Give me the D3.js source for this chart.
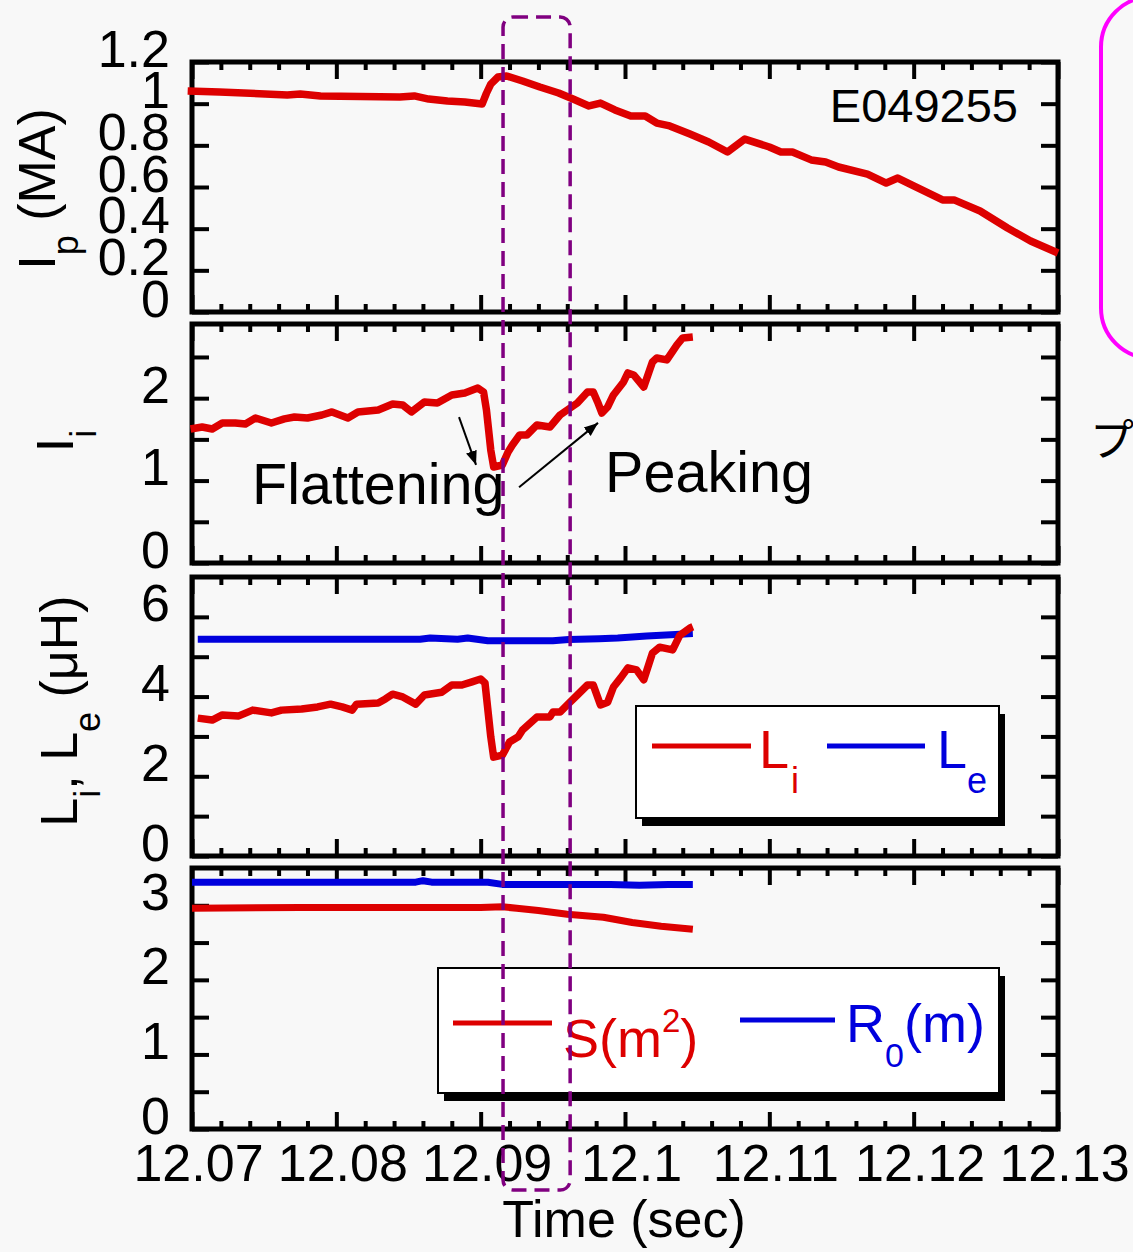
<!DOCTYPE html>
<html>
<head>
<meta charset="utf-8">
<script src="https://cdn.jsdelivr.net/npm/d3@7"></script>
<style>
  body { margin: 0; background: #f8f8f8; }
  svg { display: block; font-family: "Liberation Sans", Arial, sans-serif; }
</style>
</head>
<body>
<script>
// ---- data ----
const timeTicks = [12.07, 12.08, 12.09, 12.10, 12.11, 12.12, 12.13];
const timeTickLabels = ["12.07", "12.08", "12.09", "12.1", "12.11", "12.12", "12.13"];

// plasma current Ip (MA)
const ipData = [[12.0697,1.061],[12.0719,1.056],[12.0766,1.042],[12.0775,1.046],[12.0789,1.037],
  [12.0844,1.032],[12.0854,1.037],[12.0864,1.022],[12.0877,1.013],[12.0889,1.008],[12.0901,0.998],
  [12.0904,1.05],[12.0907,1.094],[12.0912,1.128],[12.0918,1.133],[12.0929,1.109],[12.0941,1.080],
  [12.0954,1.051],[12.0964,1.022],[12.0975,0.989],[12.0983,1.003],[12.0993,0.970],[12.1004,0.941],
  [12.1014,0.941],[12.1022,0.907],[12.1031,0.893],[12.1045,0.854],[12.1058,0.816],[12.1071,0.768],
  [12.1083,0.830],[12.1100,0.792],[12.1108,0.768],[12.1116,0.768],[12.1129,0.730],[12.1139,0.720],
  [12.1148,0.696],[12.1168,0.662],[12.1181,0.619],[12.1189,0.643],[12.1200,0.605],[12.1220,0.538],
  [12.1228,0.538],[12.1246,0.485],[12.1265,0.403],[12.1281,0.341],[12.1300,0.283]];
const ipTicks = [0, 0.2, 0.4, 0.6, 0.8, 1, 1.2];
const ipTickLabels = ["0", "0.2", "0.4", "0.6", "0.8", "1", "1.2"];

// internal inductance li
const liData = [[12.0699,1.626],[12.0707,1.650],[12.0714,1.626],[12.0721,1.699],[12.0730,1.699],
  [12.0737,1.687],[12.0744,1.760],[12.0755,1.699],[12.0764,1.748],[12.0771,1.772],[12.0780,1.760],
  [12.0790,1.796],[12.0797,1.833],[12.0808,1.760],[12.0815,1.833],[12.0829,1.857],[12.0839,1.930],
  [12.0846,1.917],[12.0852,1.833],[12.0861,1.954],[12.0870,1.942],[12.0880,2.039],[12.0889,2.063],
  [12.0898,2.124],[12.0902,2.075],[12.0904,1.857],[12.0907,1.371],[12.0909,1.165],[12.0915,1.189],
  [12.0919,1.347],[12.0922,1.432],[12.0927,1.553],[12.0932,1.553],[12.0939,1.675],[12.0948,1.650],
  [12.0955,1.796],[12.0962,1.881],[12.0967,1.942],[12.0974,2.075],[12.0978,2.075],[12.0981,1.954],
  [12.0984,1.820],[12.0988,1.893],[12.0992,2.039],[12.0999,2.197],[12.1002,2.306],[12.1006,2.282],
  [12.1013,2.136],[12.1019,2.439],[12.1022,2.488],[12.1029,2.464],[12.1036,2.646],[12.1040,2.731],
  [12.1047,2.743]];
const liTicks = [0, 0.5, 1, 1.5, 2, 2.5];
const liTickLabels = ["0", "", "1", "", "2", ""];

// Li and Le (uH)
const LiData = [[12.0704,3.46],[12.0714,3.41],[12.0721,3.54],[12.0732,3.51],[12.0742,3.66],
  [12.0755,3.59],[12.0762,3.66],[12.0776,3.69],[12.0787,3.74],[12.0796,3.81],[12.0804,3.74],
  [12.0811,3.66],[12.0814,3.81],[12.0829,3.84],[12.0834,3.94],[12.0839,4.06],[12.0846,3.99],
  [12.0855,3.81],[12.0861,4.04],[12.0873,4.11],[12.0880,4.29],[12.0887,4.29],[12.0894,4.37],
  [12.0900,4.44],[12.0903,4.34],[12.0907,2.99],[12.0909,2.48],[12.0915,2.53],[12.0920,2.86],
  [12.0926,2.99],[12.0929,3.16],[12.0939,3.49],[12.0948,3.49],[12.0950,3.61],[12.0955,3.61],
  [12.0960,3.79],[12.0967,4.04],[12.0974,4.29],[12.0978,4.29],[12.0983,3.79],[12.0988,3.86],
  [12.0992,4.24],[12.0997,4.47],[12.1002,4.72],[12.1008,4.67],[12.1013,4.42],[12.1019,5.09],
  [12.1024,5.24],[12.1033,5.17],[12.1038,5.54],[12.1045,5.72],[12.1047,5.75]];
const LeData = [[12.0704,5.44],[12.0858,5.44],[12.0865,5.47],[12.0884,5.44],[12.0891,5.47],
  [12.0905,5.40],[12.0933,5.40],[12.0950,5.40],[12.0961,5.43],[12.0982,5.45],[12.0995,5.47],
  [12.1015,5.52],[12.1035,5.56],[12.1047,5.58]];
const LTicks = [0, 1, 2, 3, 4, 5, 6];
const LTickLabels = ["0", "", "2", "", "4", "", "6"];

// S (m^2) and R0 (m)
const sData = [[12.0700,2.96],[12.0775,2.97],[12.0845,2.97],[12.0900,2.97],[12.0915,2.98],
  [12.0925,2.96],[12.0940,2.93],[12.0960,2.88],[12.0985,2.84],[12.1005,2.77],[12.1025,2.72],
  [12.1047,2.68]];
const r0Data = [[12.0700,3.31],[12.0855,3.31],[12.0860,3.33],[12.0866,3.31],[12.0895,3.31],
  [12.0905,3.31],[12.0915,3.28],[12.0990,3.28],[12.1010,3.27],[12.1030,3.28],[12.1047,3.28]];
const sTicks = [0, 0.5, 1, 1.5, 2, 2.5, 3];
const sTickLabels = ["0", "", "1", "", "2", "", "3"];

// time window marked by the dashed box
const windowTimes = [12.09155, 12.0962];

// ---- layout ----
const W = 1133, H = 1252;
const FONT = '"Liberation Sans", Arial, sans-serif';
const RED = "#dd0000", BLUE = "#0000dd";

const x = d3.scaleLinear().domain([12.07, 12.13]).range([192, 1058]);

const svg = d3.select("body").append("svg")
  .attr("width", W).attr("height", H);

svg.append("defs").append("marker")
  .attr("id", "arrow")
  .attr("viewBox", "0 0 10 10")
  .attr("refX", 10).attr("refY", 5)
  .attr("markerWidth", 7).attr("markerHeight", 7)
  .attr("markerUnits", "strokeWidth")
  .attr("orient", "auto")
  .append("path").attr("d", "M0,1 L10,5 L0,9 Z").attr("fill", "#000");

const panels = [
  { top: 62, bottom: 312, max: 1.2, ticks: ipTicks, labels: ipTickLabels },
  { top: 324, bottom: 563, max: 2.9, ticks: liTicks, labels: liTickLabels },
  { top: 577, bottom: 856, max: 7, ticks: LTicks, labels: LTickLabels },
  { top: 868, bottom: 1129, max: 3.5, ticks: sTicks, labels: sTickLabels }
];

const minorTimes = d3.range(0, 31).filter(i => i % 5 !== 0).map(i => 12.07 + i * 0.002);

function styleAxis(g) {
  g.select(".domain").remove();
  g.selectAll(".tick line").attr("stroke", "#000").attr("stroke-width", 4);
  g.attr("font-family", FONT).attr("font-size", 52);
  g.selectAll("text").attr("fill", "#000");
}

panels.forEach((p, i) => {
  p.y = d3.scaleLinear().domain([0, p.max]).range([p.bottom, p.top]);
  const g = svg.append("g");

  // top / bottom time ticks
  g.append("g").attr("transform", `translate(0,${p.bottom})`)
    .call(d3.axisBottom(x).tickValues(timeTicks).tickSize(-17).tickPadding(15)
      .tickFormat((d, k) => i === 3 ? timeTickLabels[k] : ""))
    .call(styleAxis)
    .selectAll("text").attr("dx", 6);
  g.append("g").attr("transform", `translate(0,${p.bottom})`)
    .call(d3.axisBottom(x).tickValues(minorTimes).tickSize(-8).tickFormat(""))
    .call(styleAxis);
  g.append("g").attr("transform", `translate(0,${p.top})`)
    .call(d3.axisTop(x).tickValues(timeTicks).tickSize(-17).tickFormat(""))
    .call(styleAxis);
  g.append("g").attr("transform", `translate(0,${p.top})`)
    .call(d3.axisTop(x).tickValues(minorTimes).tickSize(-8).tickFormat(""))
    .call(styleAxis);

  // left / right value ticks
  g.append("g").attr("transform", `translate(${x.range()[0]},0)`)
    .call(d3.axisLeft(p.y).tickValues(p.ticks).tickSize(-17).tickPadding(22)
      .tickFormat((d, k) => p.labels[k]))
    .call(styleAxis)
    .selectAll("text").attr("dy", 4);
  g.append("g").attr("transform", `translate(${x.range()[1]},0)`)
    .call(d3.axisRight(p.y).tickValues(p.ticks).tickSize(-17).tickFormat(""))
    .call(styleAxis);

  // frame
  g.append("rect")
    .attr("x", x.range()[0]).attr("y", p.top)
    .attr("width", x.range()[1] - x.range()[0]).attr("height", p.bottom - p.top)
    .attr("fill", "none").attr("stroke", "#000").attr("stroke-width", 5);
});

function drawLine(p, data, color, width) {
  const line = d3.line().x(d => x(d[0])).y(d => p.y(d[1]));
  svg.append("path").datum(data)
    .attr("d", line)
    .attr("fill", "none").attr("stroke", color)
    .attr("stroke-width", width)
    .attr("stroke-linejoin", "round").attr("stroke-linecap", "butt");
}

drawLine(panels[0], ipData, RED, 7.5);
drawLine(panels[1], liData, RED, 7.5);
drawLine(panels[2], LeData, BLUE, 7);
drawLine(panels[2], LiData, RED, 7.5);
drawLine(panels[3], r0Data, BLUE, 7);
drawLine(panels[3], sData, RED, 7);

// shot number
svg.append("text").attr("x", 1018).attr("y", 122)
  .attr("text-anchor", "end").attr("font-size", 47).text("E049255");

// annotations in panel 2
const p2 = panels[1];
svg.append("text").attr("x", x(12.07416)).attr("y", p2.y(0.71))
  .attr("font-size", 57.5).text("Flattening");
svg.append("text").attr("x", x(12.09862)).attr("y", p2.y(0.86))
  .attr("font-size", 57.5).text("Peaking");
[[12.0885, 1.77, 12.08968, 1.19], [12.09266, 0.92, 12.09813, 1.70]].forEach(a => {
  svg.append("line")
    .attr("x1", x(a[0])).attr("y1", p2.y(a[1]))
    .attr("x2", x(a[2])).attr("y2", p2.y(a[3]))
    .attr("stroke", "#000").attr("stroke-width", 2)
    .attr("marker-end", "url(#arrow)");
});

// y-axis titles (rotated)
function yTitle(cx, cy, parts) {
  const t = svg.append("text")
    .attr("transform", `translate(${cx},${cy}) rotate(-90)`)
    .attr("text-anchor", "middle").attr("font-size", 52);
  let shifted = false;
  parts.forEach(s => {
    const sub = s.startsWith("_");
    const ts = t.append("tspan").text(sub ? s.slice(1) : s);
    if (sub) { ts.attr("font-size", 36).attr("dy", 23); shifted = true; }
    else if (shifted) { ts.attr("dy", -23); shifted = false; }
  });
}
yTitle(55, 189, ["I", "_p", " (MA)"]);
yTitle(73, 441, ["I", "_i"]);
yTitle(77, 711, ["L", "_i", ", L", "_e", " (\u03BCH)"]);

// legends
function legendBox(x0, y0, w, h) {
  svg.append("rect").attr("x", x0 + 6).attr("y", y0 + 8)
    .attr("width", w).attr("height", h).attr("fill", "#000");
  svg.append("rect").attr("x", x0).attr("y", y0)
    .attr("width", w).attr("height", h)
    .attr("fill", "#fff").attr("stroke", "#000").attr("stroke-width", 2);
}
function legendLine(x1, x2, y, color) {
  svg.append("line").attr("x1", x1).attr("x2", x2).attr("y1", y).attr("y2", y)
    .attr("stroke", color).attr("stroke-width", 5);
}

legendBox(636, 706, 363, 112);
legendLine(652, 751, 746, RED);
legendLine(827, 925, 746, BLUE);
const l1 = svg.append("text").attr("x", 759).attr("y", 768).attr("font-size", 54).attr("fill", RED);
l1.append("tspan").text("L");
l1.append("tspan").attr("font-size", 36).attr("dy", 25).attr("dx", 2).text("i");
const l2 = svg.append("text").attr("x", 937).attr("y", 768).attr("font-size", 54).attr("fill", BLUE);
l2.append("tspan").text("L");
l2.append("tspan").attr("font-size", 36).attr("dy", 25).text("e");

legendBox(438, 968, 561, 125);
legendLine(453, 552, 1023, RED);
legendLine(740, 835, 1020, BLUE);
const l3 = svg.append("text").attr("x", 563).attr("y", 1057).attr("font-size", 54).attr("fill", RED);
l3.append("tspan").text("S(m");
l3.append("tspan").attr("font-size", 33).attr("dy", -25).text("2");
l3.append("tspan").attr("dy", 25).text(")");
const l4 = svg.append("text").attr("x", 846).attr("y", 1042).attr("font-size", 54).attr("fill", BLUE);
l4.append("tspan").text("R");
l4.append("tspan").attr("font-size", 34).attr("dy", 25).text("0");
l4.append("tspan").attr("dy", -25).text("(m)");

// x-axis title
svg.append("text").attr("x", 624).attr("y", 1237)
  .attr("text-anchor", "middle").attr("font-size", 52).text("Time (sec)");

// neighbouring slide content, cut off at the right edge
svg.append("rect").attr("x", 1101).attr("y", -3).attr("width", 200).attr("height", 361)
  .attr("rx", 50).attr("fill", "none").attr("stroke", "#ff00ff").attr("stroke-width", 4);
svg.append("text").attr("x", 1090).attr("y", 456)
  .attr("font-family", '"Noto Sans CJK JP", sans-serif').attr("font-size", 44)
  .text("プラズマ電流");

// dashed time window
svg.append("rect")
  .attr("x", x(windowTimes[0])).attr("y", 17)
  .attr("width", x(windowTimes[1]) - x(windowTimes[0])).attr("height", 1173)
  .attr("rx", 10)
  .attr("fill", "none").attr("stroke", "#800080")
  .attr("stroke-width", 3.5).attr("stroke-dasharray", "15,8");
</script>
</body>
</html>
